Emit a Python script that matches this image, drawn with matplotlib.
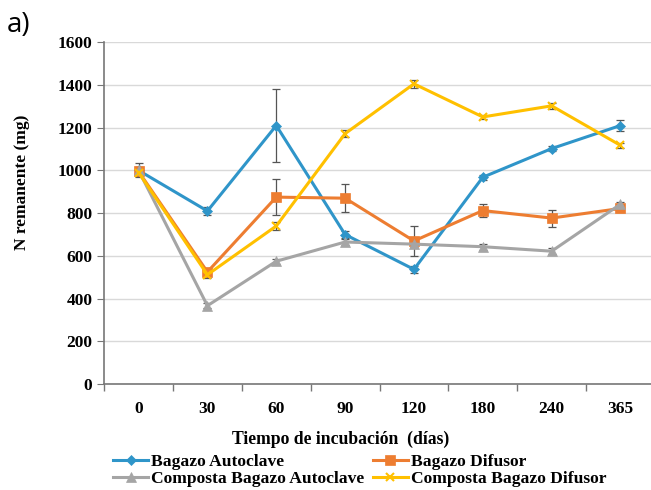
import numpy as np
import matplotlib.pyplot as plt
import matplotlib as mpl

mpl.rcParams['font.family'] = ['Liberation Serif', 'DejaVu Serif']
mpl.rcParams['font.weight'] = 'bold'

# datos
dias = ['0', '30', '60', '90', '120', '180', '240', '365']

bagazo_autoclave = [1000, 810, 1210, 700, 537, 968, 1102, 1210]
bagazo_autoclave_err = [33, 20, 170, 18, 15, 12, 12, 28]

bagazo_difusor = [995, 525, 875, 870, 670, 812, 777, 822]
bagazo_difusor_err = [20, 15, 84, 66, 70, 30, 40, 15]

composta_autoclave = [1000, 367, 575, 665, 655, 643, 622, 842]
composta_autoclave_err = [15, 12, 12, 15, 15, 15, 15, 12]

composta_difusor = [990, 512, 740, 1172, 1405, 1250, 1302, 1117]
composta_difusor_err = [15, 15, 20, 15, 20, 8, 15, 12]

series = [
    ('Bagazo Autoclave', bagazo_autoclave, bagazo_autoclave_err, '#2F95C9', 'D', 5),
    ('Bagazo Difusor', bagazo_difusor, bagazo_difusor_err, '#ED7D31', 's', 7),
    ('Composta Bagazo Autoclave', composta_autoclave, composta_autoclave_err, '#A5A5A5', '^', 7),
    ('Composta Bagazo Difusor', composta_difusor, composta_difusor_err, '#FFC000', 'x', 6),
]

fig = plt.figure(figsize=(6.51, 4.9), dpi=100)
ax = fig.add_axes([0.16, 0.216, 0.846, 0.698])

x = np.arange(len(dias))
handles = []
for name, vals, err, col, mk, ms in series:
    ax.errorbar(x, vals, yerr=err, fmt='none', ecolor='#555555',
                elinewidth=0.9, capsize=3, capthick=0.9, zorder=2)
    h, = ax.plot(x, vals, color=col, marker=mk, markersize=ms, linewidth=2.2,
                 markeredgewidth=1.5 if mk == 'x' else 0.5, label=name, zorder=3)
    handles.append(h)

ax.set_ylim(0, 1600)
ax.set_yticks(range(0, 1601, 200))
ax.set_xlim(-0.5, 7.5)
ax.set_xticks(x)
ax.set_xticklabels(dias)
ax.set_xticks(np.arange(-0.5, 8, 1), minor=True)
ax.tick_params(axis='x', which='major', length=0, pad=12, labelsize=12.5)
ax.tick_params(axis='x', which='minor', length=5, color='#777777', width=1)
ax.tick_params(axis='y', length=5, color='#777777', labelsize=12.5)
for lab in ax.get_xticklabels() + ax.get_yticklabels():
    lab.set_fontweight('bold')

ax.grid(axis='y', color='#D9D9D9', linewidth=1)
ax.set_axisbelow(True)
for s in ['top', 'right']:
    ax.spines[s].set_visible(False)
ax.spines['left'].set_color('#777777')
ax.spines['bottom'].set_color('#777777')
ax.spines['left'].set_linewidth(1.2)
ax.spines['bottom'].set_linewidth(1.2)

ax.set_ylabel('N remanente (mg)', fontsize=12.5, fontweight='bold')
ax.yaxis.set_label_coords(-0.135, 0.59)
ax.set_xlabel('Tiempo de incubación  (días)', fontsize=12.7, fontweight='bold')
ax.xaxis.set_label_coords(0.43, -0.135)

# orden de la leyenda por filas
orden = [0, 2, 1, 3]
fig.legend(handles=[handles[i] for i in orden], loc='lower left',
           bbox_to_anchor=(0.158, -0.016),
           ncol=2, frameon=False, handlelength=2.0, handletextpad=0.15,
           columnspacing=0.5, labelspacing=0.05, borderaxespad=0.2,
           prop={'weight': 'bold', 'size': 12.6})

fig.text(0.01, 0.935, 'a)', fontsize=20, family='Open Sans', fontweight='normal')

fig.savefig('out.png', dpi=100)
